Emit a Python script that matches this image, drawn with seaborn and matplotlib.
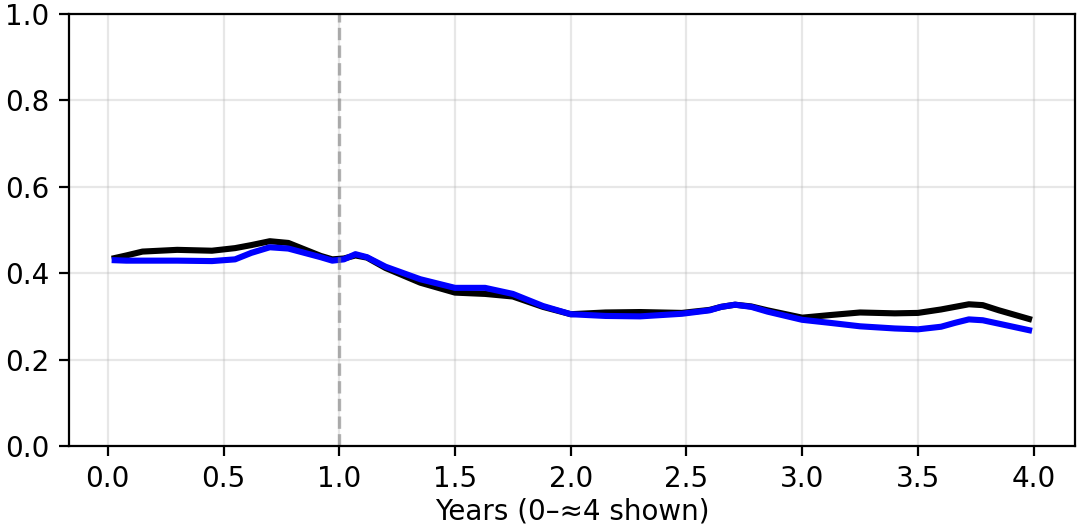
import numpy as np
import pandas as pd
import seaborn as sns
import matplotlib
matplotlib.use("Agg")
import matplotlib.pyplot as plt

# values
years = [0.03, 0.08, 0.15, 0.3, 0.45, 0.55, 0.62, 0.7, 0.78, 0.85, 0.92, 0.97, 1.02, 1.07,
         1.12, 1.2, 1.35, 1.5, 1.63, 1.75, 1.88, 2.0, 2.15, 2.3, 2.48, 2.6, 2.65, 2.71,
         2.78, 2.85, 3.0, 3.12, 3.25, 3.4, 3.5, 3.6, 3.66, 3.72, 3.78, 3.85, 3.98]
black_vals = [0.435, 0.441, 0.450, 0.454, 0.452, 0.458, 0.465, 0.474, 0.470, 0.455, 0.440,
              0.432, 0.434, 0.441, 0.436, 0.412, 0.378, 0.355, 0.352, 0.346, 0.322, 0.305,
              0.309, 0.310, 0.308, 0.315, 0.322, 0.327, 0.323, 0.314, 0.297, 0.303, 0.309,
              0.307, 0.308, 0.316, 0.322, 0.328, 0.326, 0.314, 0.294]
blue_vals = [0.430, 0.429, 0.429, 0.429, 0.428, 0.432, 0.447, 0.460, 0.457, 0.447, 0.437,
             0.429, 0.432, 0.444, 0.437, 0.415, 0.386, 0.366, 0.366, 0.352, 0.324, 0.305,
             0.301, 0.300, 0.306, 0.314, 0.322, 0.327, 0.322, 0.311, 0.292, 0.285, 0.277,
             0.272, 0.270, 0.276, 0.285, 0.293, 0.291, 0.283, 0.268]
marker_year = 1.0

df = pd.DataFrame({"year": years, "black": black_vals, "blue": blue_vals})

fig, ax = plt.subplots(figsize=(5.39, 2.645), dpi=200)
sns.lineplot(data=df, x="year", y="black", color="black", linewidth=2.2, ax=ax)
sns.lineplot(data=df, x="year", y="blue", color="blue", linewidth=2.2, ax=ax)
ax.axvline(marker_year, color="gray", linestyle="--", linewidth=1.2, alpha=0.6)

ax.set_ylim(0, 1)
ax.set_xticks(np.arange(0, 4.01, 0.5))
ax.grid(True, alpha=0.3)
ax.set_xlabel("Years (0–≈4 shown)", labelpad=1.5)
ax.set_ylabel("")

plt.subplots_adjust(left=0.064, right=0.997, bottom=0.157, top=0.9735)
plt.savefig("out.png", dpi=200)
